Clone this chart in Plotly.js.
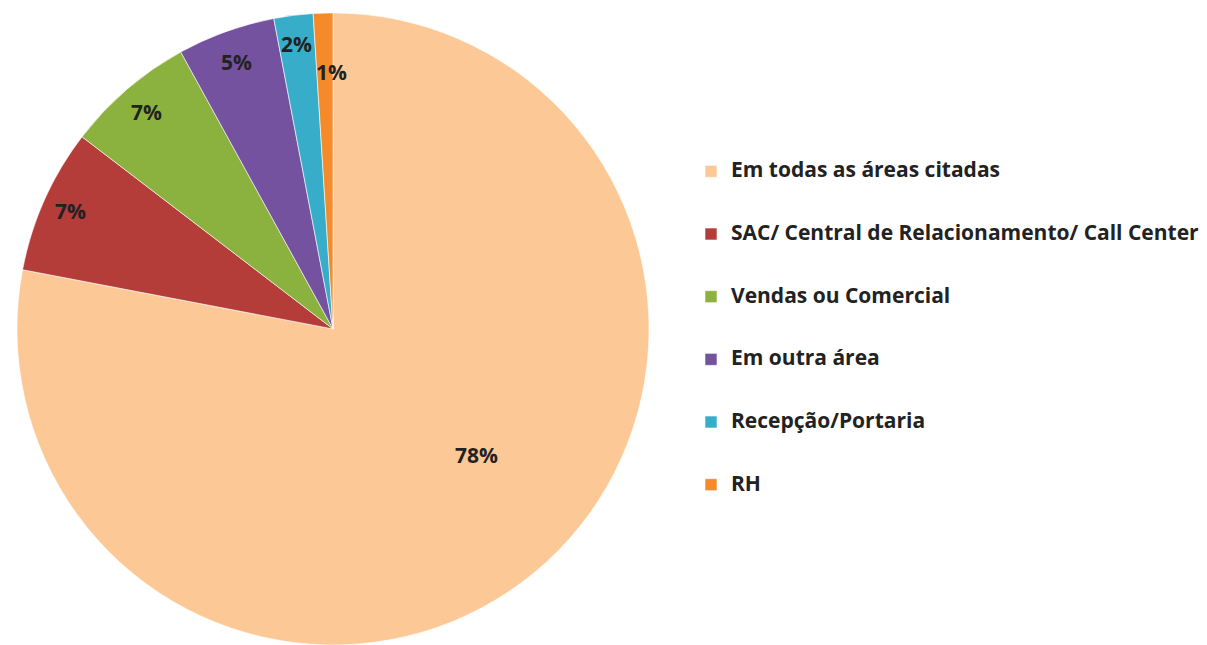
<!DOCTYPE html>
<html>
<head>
<meta charset="utf-8">
<script src="https://cdn.plot.ly/plotly-3.0.1.min.js"></script>
<style>html,body{margin:0;padding:0;background:#fff;}#chart{width:1207px;height:645px;}</style>
</head>
<body>
<div id="chart"></div>
<script>
const categories = ["Em todas as áreas citadas", "SAC/ Central de Relacionamento/ Call Center", "Vendas ou Comercial", "Em outra área", "Recepção/Portaria", "RH"];
const shares = [78.0, 7.4, 6.6, 5.0, 2.0, 1.0];
const sliceColors = ["#FCC996", "#B43C39", "#8BB13F", "#7452A0", "#37ADC9", "#F48A2A"];
// label placement (style): fraction of radius and angular offset in degrees
const labelRadius = [0.605, 0.91, 0.904, 0.898, 0.91, 0.813];
const labelAngleShift = [-9, 0, 0, 0, 0, 1.5];

const W = 1207, H = 645;
const domY = [0, 0.98];
const side = (domY[1] - domY[0]) * H;
const cx = 333, r = side / 2;
const domX = [(cx - r) / W, (cx + r) / W];
const cy = H - (domY[0] * H) - r; // px from top

const FONT = '"Open Sans", Lato, sans-serif';
const total = shares.reduce((a, b) => a + b, 0);
const annotations = [];
let cum = 0;
shares.forEach((v, i) => {
  const mid = ((cum + v / 2) / total * 360 + labelAngleShift[i]) * Math.PI / 180;
  cum += v;
  const f = labelRadius[i];
  const px = cx + r * f * Math.sin(mid);
  const py = cy - r * f * Math.cos(mid);
  annotations.push({
    x: px / W, y: 1 - py / H, xref: 'paper', yref: 'paper',
    xanchor: 'center', yanchor: 'middle',
    text: Math.round(v / total * 100) + '%', showarrow: false,
    font: {family: FONT, size: 21, color: '#222', weight: 'bold'}
  });
});

const legendLabels = categories.map(c => '&nbsp;<br><span style="font-size:21px">' + c + '</span><br>&nbsp;');

const trace = {
  type: 'pie',
  labels: legendLabels,
  values: shares,
  sort: false,
  direction: 'clockwise',
  rotation: 0,
  textinfo: 'none',
  hoverinfo: 'skip',
  domain: {x: domX, y: domY},
  marker: {colors: sliceColors, line: {color: 'rgba(255,255,255,0.6)', width: 1}}
};

const layout = {
  width: W, height: H,
  margin: {l: 0, r: 0, t: 0, b: 0},
  paper_bgcolor: '#ffffff',
  showlegend: true,
  legend: {
    x: 691 / W, xanchor: 'left', y: 1 - 328.5 / H, yanchor: 'middle',
    font: {family: FONT, size: 15.3, color: '#222', weight: 'bold'},
    valign: 'middle', bgcolor: 'rgba(0,0,0,0)'
  },
  annotations: annotations
};

Plotly.newPlot('chart', [trace], layout, {displayModeBar: false, staticPlot: true});
</script>
</body>
</html>
